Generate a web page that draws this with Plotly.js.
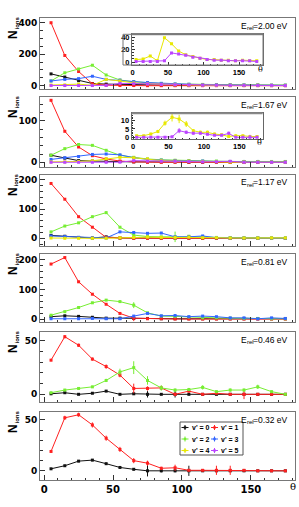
<!DOCTYPE html>
<html><head><meta charset="utf-8">
<script src="https://cdn.plot.ly/plotly-3.0.1.min.js"></script>
<style>html,body{margin:0;padding:0;background:#fff}#chart{width:299px;height:507px}</style>
</head><body><div id="chart"></div>
<script>
// ---------- data ----------
const theta = [5,15,25,35,45,55,65,75,85,95,105,115,125,135,145,155,165,175];
const energyLabels = ['2.00','1.67','1.17','0.81','0.46','0.32'];
const seriesNames = ["v' = 0","v' = 1","v' = 2","v' = 3","v' = 4","v' = 5"];
const seriesColors = ['#111111','#ff2020','#77ee33','#3366ff','#e8e800','#bb44ff'];

// E_rel = 2.00 eV
const e200_v0 = [75,55,32,14,10,8,6,5,4,3,3,2,2,2,2,2,1,1];
const e200_v1 = [400,192,90,12,3,1,1,0,0,0,0,0,0,0,0,0,0,0];
const e200_v2 = [30,82,106,130,68,36,25,18,14,11,9,8,7,6,5,5,4,4];
const e200_v3 = [30,40,45,60,40,35,26,20,15,11,9,7,6,5,4,4,3,3];
const e200_v4 = [4,5,10,2,40,30,18,12,9,6,4,4,3,3,2,3,2,2];
const e200_v5 = [1,1,1,1,2,15,13,11,8,6,4,3,3,2,2,2,2,1];
// E_rel = 1.67 eV
const e167_v0 = [17,10,4,3,2,2,1,1,1,1,0,0,0,0,0,0,0,0];
const e167_v1 = [150,75,37,16,8,3,1,0,0,0,0,0,0,0,0,0,0,0];
const e167_v2 = [17,33,43,41,29,17,12,8,6,5,4,3,3,2,2,2,2,2];
const e167_v3 = [7,11,14,19,20,18,11,7,5,4,3,3,2,2,2,2,1,1];
const e167_v4 = [1,1,2,3.5,8.5,12,11,8,4,3,3,2,1.5,0.5,1,1,0.5,0.5];
const e167_v5 = [0,0,0,0,0,0.3,4,3,2.5,2.5,1.8,1.2,1.2,2.4,0,0,0,0];
const e167_v4_err = [0.5,0.5,0.7,1,1.5,2.5,2.5,1.8,1,1,1,0.8,0.8,0.5,0.7,0.7,0.5,0.5];
const e167_v5_err = [0.2,0.2,0.2,0.2,0.2,0.3,1.5,1,0.8,0.8,0.6,0.5,0.5,1,0.3,0.3,1.5,0.3];
// E_rel = 1.17 eV
const e117_v0 = [10,7,3,1,5,1,1,1,1,1,1,0,0,0,0,0,0,0];
const e117_v1 = [188,134,74,38,3,1,0,0,0,0,0,0,0,0,0,0,0,0];
const e117_v2 = [22,42,53,74,88,38,11,6,5,5,7,5,3,2,1,1,1,1];
const e117_v2_err = [2,3,3,4,4,3,2,2,2,18,2,6,1,1,1,1,1,1];
const e117_v3 = [8,6,3,1,1,22,20,17,18,5,5,8,2,1,1,1,0,0];
const e117_v4 = [1,0,0,0,0,2,3,4,3,3,4,2,2,1,1,1,1,1];
// E_rel = 0.81 eV
const e081_v0 = [8,11,9,6,3,3,2,2,1,1,1,1,1,1,1,1,1,1];
const e081_v1 = [186,208,126,84,50,19,3,1,1,0,0,0,0,0,0,0,0,0];
const e081_v1_err = [3,3,3,3,2,2,10,1,1,1,1,1,1,1,1,1,1,1];
const e081_v2 = [13,25,39,55,64,59,47,21,10,9,7,4,4,3,2,2,1,1];
const e081_v2_err = [1,2,2,3,3,3,10,3,2,2,2,1,1,1,1,1,1,1];
const e081_v3 = [1,1,1,2,1,1,10,19,11,12,8,10,8,4,4,1,4,2];
// E_rel = 0.46 eV
const e046_v0 = [0.5,1.5,0,1,3,0,0.5,0,0,0,0,0,0,0,0,0,0,0];
const e046_v0_err = [0.3,0.5,0.3,0.5,0.8,0.3,1,3,0.5,3,0.5,0.5,0.5,0.5,0.5,0.5,0.5,0.3];
const e046_v1 = [32,54,46,33,26,18,5.5,5.5,6,0,3,0,1,0,0,0,0,0];
const e046_v1_err = [1,1.5,1.5,1.5,2,2,4.5,2,2,1.5,1.5,0.5,1,0.5,4.5,0.5,0.5,0.3];
const e046_v2 = [1.5,4,5.5,7,13,21,25,13,6,4,4.5,6.5,2.5,4,4,7,2.5,0];
const e046_v2_err = [0.5,1,1,1,1.5,3,6,4,2.5,1.5,1.5,2,1,1.5,1.5,2,1,0.3];
// E_rel = 0.32 eV
const e032_v0 = [2,5,9.5,10.5,7,3.3,1.5,0,0,0,0,0,0,0,0,0,0,0];
const e032_v0_err = [0.5,0.8,1,1,1,1,1,5.5,1.5,1.5,5,0.5,0.5,0.5,0.5,0.5,0.5,0.5];
const e032_v1 = [19,52,55,45,32,21,10,7.5,2.5,3,0.5,0.5,0.5,0.5,0.5,0,0,0];
const e032_v1_err = [1,2,2,2.5,2.5,2.5,2.5,2.5,1.5,3,1,0.5,4.5,4.5,0.5,0.5,0.5,0.5];

const yTickStep = [200,100,100,100,50,50];
const yMinorStep = [50,20,20,20,10,10];

// ---------- layout geometry (pixels) ----------
const W = 299, H = 507;
const panelPx = [[18,89],[97,167],[175,246],[254,322],[332,402],[412,480]];
const yRanges = [[-21,430],[-11.4,158],[-26.4,217],[-10,220],[-7.2,58.4],[-9,57.7]];
const xLeft = 40, xRight = 295, xRange = [-3, 182];
const fx = p => p / W, fy = p => 1 - p / H;

const mainSeries = [
  [e200_v0,e200_v1,e200_v2,e200_v3,e200_v4,e200_v5],
  [e167_v0,e167_v1,e167_v2,e167_v3,e167_v4,e167_v5],
  [e117_v0,e117_v1,e117_v2,e117_v3,e117_v4,null],
  [e081_v0,e081_v1,e081_v2,e081_v3,null,null],
  [e046_v0,e046_v1,e046_v2,null,null,null],
  [e032_v0,e032_v1,null,null,null,null]
];
const mainErr = [
  [null,null,null,null,null,null],
  [null,null,null,null,e167_v4_err,e167_v5_err],
  [null,null,e117_v2_err,null,null,null],
  [null,e081_v1_err,e081_v2_err,null,null,null],
  [e046_v0_err,e046_v1_err,e046_v2_err,null,null,null],
  [e032_v0_err,e032_v1_err,null,null,null,null]
];

const traces = [];
function addTrace(y, err, k, ax) {
  traces.push({
    type:'scatter', mode:'lines+markers', x: theta, y: y,
    xaxis:'x'+ax, yaxis:'y'+ax,
    line:{color:seriesColors[k], width:1},
    marker:{symbol:'square', size:3, color:seriesColors[k]},
    error_y: err ? {type:'data', array: err, visible: true, color: seriesColors[k], thickness: 1, width: 0} : {visible:false},
    name: seriesNames[k], hoverinfo:'skip', showlegend:false
  });
}
mainSeries.forEach((arr, i) => {
  const ax = i === 0 ? '' : String(i + 1);
  arr.forEach((y, k) => { if (y) addTrace(y, mainErr[i][k], k, ax); });
});
// insets: v'=4 and v'=5 magnified
addTrace(e200_v4, null, 4, '7');
addTrace(e200_v5, null, 5, '7');
addTrace(e167_v4, e167_v4_err, 4, '8');
addTrace(e167_v5, e167_v5_err, 5, '8');

// text width helper (for composing E_rel labels without <sub>)
const ctx = document.createElement('canvas').getContext('2d');
function textW(str, size, weight) {
  ctx.font = (weight || 'normal') + ' ' + size + 'px "Liberation Sans"';
  return ctx.measureText(str).width;
}

const frameColor = '#777777';
const layout = {
  width: W, height: H, margin:{l:0,r:0,t:0,b:0,pad:0},
  paper_bgcolor:'#ffffff', plot_bgcolor:'#ffffff', showlegend:false,
  annotations: [], shapes: []
};
const yTickFont = {family:'DejaVu Sans', size:9, color:'#000', weight:'bold'};
const xTickFont = {family:'DejaVu Sans', size:10, color:'#000', weight:'bold'};
const lblSize = 8.5, subSize = 6;

panelPx.forEach((p, i) => {
  const sfx = i === 0 ? '' : String(i + 1);
  const last = i === panelPx.length - 1;
  layout['xaxis' + sfx] = {
    domain:[fx(xLeft), fx(xRight)], range: xRange, anchor: 'y' + sfx,
    showline:true, mirror:true, linecolor: frameColor, linewidth:1,
    ticks:'inside', ticklen:5, tickcolor:'#333', tickwidth:1, dtick:50, tick0:0,
    minor:{dtick:10, ticklen:2.5, ticks:'inside', tickcolor:'#333'},
    showticklabels: last, tickfont: xTickFont, ticklabelstandoff: 0,
    showgrid:false, zeroline:false, fixedrange:true
  };
  layout['yaxis' + sfx] = {
    domain:[fy(p[1]), fy(p[0])], range: yRanges[i], anchor: 'x' + sfx,
    showline:true, mirror:true, linecolor: frameColor, linewidth:1,
    ticks:'inside', ticklen:5, tickcolor:'#333', tickwidth:1, dtick: yTickStep[i], tick0:0,
    minor:{dtick: yMinorStep[i], ticklen:2.5, ticks:'inside', tickcolor:'#333'},
    tickfont: yTickFont, ticklabelstandoff: 0,
    showgrid:false, zeroline:false, fixedrange:true
  };
  // axis title N_ions (rotated, at the top of the axis)
  layout.annotations.push({xref:'paper', yref:'paper', x: fx(12.5), y: fy(p[0] + 16.5),
    text:'N', textangle:-90, showarrow:false, xanchor:'center', yanchor:'middle',
    font:{family:'Liberation Sans', size:12, color:'#000', weight:'bold'}});
  layout.annotations.push({xref:'paper', yref:'paper', x: fx(16), y: fy(p[0] + 5.5),
    text:'ions', textangle:-90, showarrow:false, xanchor:'center', yanchor:'middle',
    font:{family:'Liberation Sans', size:6, color:'#000', weight:'bold'}});
  // energy label "E_rel=x.xx eV" composed of three texts
  const rest = '=' + energyLabels[i] + ' eV';
  const xr = 290, yc = p[0] + 7.5;
  const wRest = textW(rest, lblSize), wSub = textW('rel', subSize);
  layout.annotations.push({xref:'paper', yref:'paper', x: fx(xr), y: fy(yc), text: rest,
    showarrow:false, xanchor:'right', yanchor:'middle', font:{family:'Liberation Sans', size:lblSize, color:'#000'}});
  layout.annotations.push({xref:'paper', yref:'paper', x: fx(xr - wRest), y: fy(yc + 2.3), text: 'rel',
    showarrow:false, xanchor:'right', yanchor:'middle', font:{family:'Liberation Sans', size:subSize, color:'#000'}});
  layout.annotations.push({xref:'paper', yref:'paper', x: fx(xr - wRest - wSub), y: fy(yc), text: 'E',
    showarrow:false, xanchor:'right', yanchor:'middle', font:{family:'Liberation Sans', size:lblSize, color:'#000'}});
});
layout.annotations.push({xref:'paper', yref:'paper', x: fx(293), y: fy(486.5), text:'θ',
  showarrow:false, xanchor:'center', yanchor:'middle', font:{family:'DejaVu Serif', size:10, color:'#000'}});

// insets
const insets = [
  {sfx:'7', x:[132,263], y:[34.3,65], xr:[-0.7,183.8], yr:[-4.9,45.6], dt:20, mdt:5, theta:[260,69]},
  {sfx:'8', x:[131.7,262.7], y:[113.3,139], xr:[-2,183], yr:[-1.0,14.4], dt:5, mdt:1, theta:[259,142]}
];
const insetFont = {family:'Liberation Sans', size:7.5, color:'#000', weight:'bold'};
insets.forEach(s => {
  layout['xaxis' + s.sfx] = {
    domain:[fx(s.x[0]), fx(s.x[1])], range: s.xr, anchor:'y' + s.sfx,
    showline:true, mirror:true, linecolor:'#666', linewidth:1,
    ticks:'inside', ticklen:3, tickcolor:'#333', dtick:50, tick0:0,
    minor:{dtick:10, ticklen:1.5, ticks:'inside', tickcolor:'#333'},
    tickfont: insetFont, ticklabelstandoff: 0,
    showgrid:false, zeroline:false, fixedrange:true
  };
  layout['yaxis' + s.sfx] = {
    domain:[fy(s.y[1]), fy(s.y[0])], range: s.yr, anchor:'x' + s.sfx,
    showline:true, mirror:true, linecolor:'#666', linewidth:1,
    ticks:'inside', ticklen:3, tickcolor:'#333', dtick: s.dt, tick0:0,
    minor:{dtick: s.mdt, ticklen:1.5, ticks:'inside', tickcolor:'#333'},
    tickfont: insetFont, ticklabelstandoff: 0,
    showgrid:false, zeroline:false, fixedrange:true
  };
  layout.annotations.push({xref:'paper', yref:'paper', x: fx(s.theta[0]), y: fy(s.theta[1]), text:'θ',
    showarrow:false, xanchor:'center', yanchor:'middle', font:{family:'DejaVu Serif', size:8, color:'#000'}});
  // thicker top border of the inset pad
  layout.shapes.push({type:'line', xref:'paper', yref:'paper', x0: fx(s.x[0]), x1: fx(s.x[1]),
    y0: fy(s.y[0]), y1: fy(s.y[0]), line:{color:'#888', width:2}});
});
// pad border of first inset (labels sit inside it)
layout.shapes.push({type:'rect', xref:'paper', yref:'paper', x0: fx(123), x1: fx(263), y0: fy(65), y1: fy(34.3),
  line:{color:'#777', width:1}, fillcolor:'rgba(0,0,0,0)'});

// legend box in the bottom panel
const legBox = {x0:180, x1:243, y0:422, y1:455};
layout.shapes.push({type:'rect', xref:'paper', yref:'paper', x0: fx(legBox.x0), x1: fx(legBox.x1),
  y0: fy(legBox.y1), y1: fy(legBox.y0), line:{color:'#555', width:1}, fillcolor:'#ffffff', layer:'above'});
const legCols = [181.5, 211];
const legRows = [427.5, 439, 450.5];
seriesNames.forEach((nm, k) => {
  const cx = legCols[k % 2], cy = legRows[Math.floor(k / 2)], c = seriesColors[k];
  layout.shapes.push({type:'line', xref:'paper', yref:'paper', x0: fx(cx), x1: fx(cx + 7), y0: fy(cy), y1: fy(cy), line:{color:c, width:1}});
  layout.shapes.push({type:'line', xref:'paper', yref:'paper', x0: fx(cx + 3.5), x1: fx(cx + 3.5), y0: fy(cy - 2.5), y1: fy(cy + 2.5), line:{color:c, width:1}});
  layout.shapes.push({type:'rect', xref:'paper', yref:'paper', x0: fx(cx + 2.3), x1: fx(cx + 4.7), y0: fy(cy + 1.2), y1: fy(cy - 1.2), line:{width:0}, fillcolor:c});
  layout.annotations.push({xref:'paper', yref:'paper', x: fx(cx + 8), y: fy(cy), text: nm, showarrow:false,
    xanchor:'left', yanchor:'middle', font:{family:'Liberation Sans', size:7, color:'#000', weight:'bold'}});
});

Plotly.newPlot('chart', traces, layout, {staticPlot:true, displayModeBar:false});
</script></body></html>
